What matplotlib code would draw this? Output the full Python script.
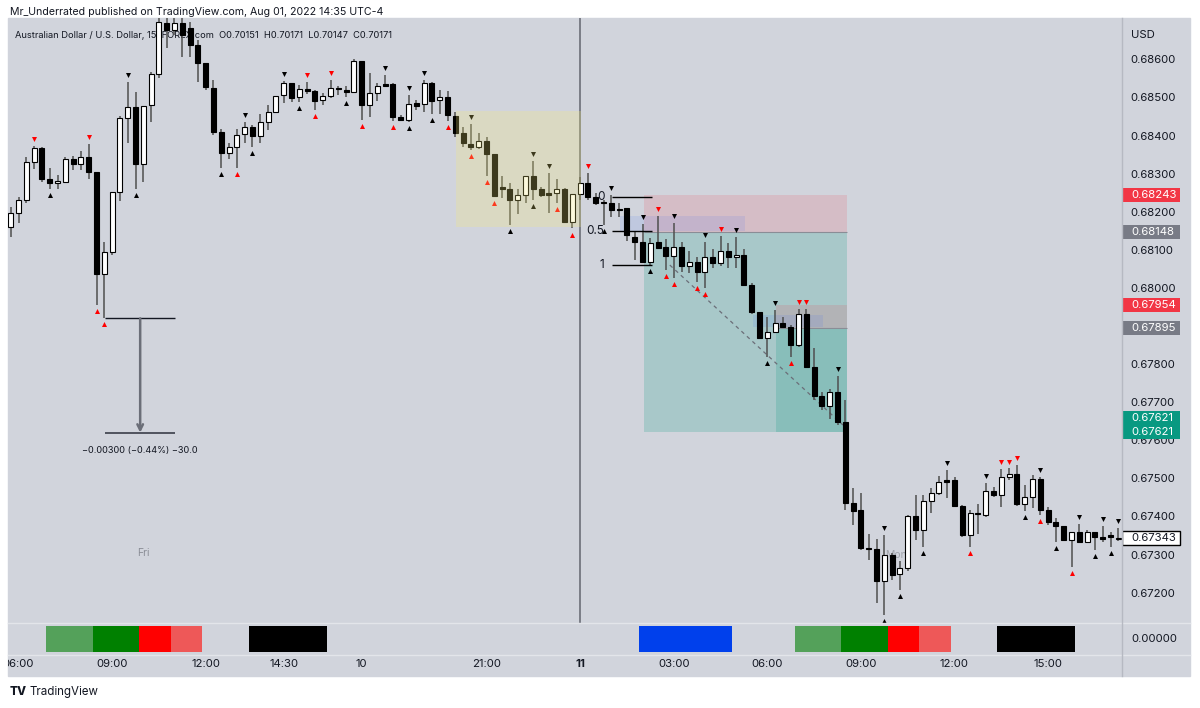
import matplotlib
matplotlib.use("Agg")
import matplotlib.pyplot as plt
from matplotlib.patches import Rectangle
from matplotlib.lines import Line2D

plt.rcParams["font.family"] = ["Inter", "DejaVu Sans"]

W, H = 1200, 708
BG = "#d1d4dc"
INK = "#131722"
WICK = "#4f4f4f"

# AUDUSD 15m candles (Fri 05:45 ... Mon 15:30)
opens = [0.68161, 0.68196, 0.68231, 0.68331, 0.68366, 0.68285, 0.68275, 0.68279, 0.68338, 0.68324,
         0.68343, 0.68305, 0.68036, 0.68093, 0.68253, 0.68445, 0.68476, 0.68325, 0.68480, 0.68561,
         0.68695, 0.68677, 0.68695, 0.68681, 0.68638, 0.68590, 0.68526, 0.68410, 0.68355, 0.68371,
         0.68404, 0.68423, 0.68399, 0.68436, 0.68462, 0.68506, 0.68537, 0.68500, 0.68521, 0.68517,
         0.68493, 0.68504, 0.68526, 0.68519, 0.68515, 0.68596, 0.68480, 0.68511, 0.68535, 0.68535,
         0.68449, 0.68441, 0.68486, 0.68483, 0.68539, 0.68493, 0.68500, 0.68451, 0.68406, 0.68378,
         0.68371, 0.68386, 0.68352, 0.68266, 0.68259, 0.68231, 0.68244, 0.68294, 0.68260, 0.68248,
         0.68248, 0.68259, 0.68174, 0.68246, 0.68276, 0.68239, 0.68226, 0.68224, 0.68207, 0.68209,
         0.68134, 0.68121, 0.68069, 0.68121, 0.68108, 0.68084, 0.68108, 0.68058, 0.68069, 0.68043,
         0.68082, 0.68065, 0.68098, 0.68080, 0.68086, 0.68008, 0.67938, 0.67868, 0.67883, 0.67907,
         0.67898, 0.67850, 0.67931, 0.67793, 0.67716, 0.67691, 0.67728, 0.67647, 0.67436, 0.67417,
         0.67318, 0.67314, 0.67231, 0.67299, 0.67248, 0.67264, 0.67401, 0.67364, 0.67441, 0.67462,
         0.67496, 0.67496, 0.67427, 0.67351, 0.67410, 0.67404, 0.67468, 0.67456, 0.67504, 0.67511,
         0.67434, 0.67452, 0.67498, 0.67418, 0.67386, 0.67375, 0.67338, 0.67358, 0.67334, 0.67358,
         0.67347, 0.67350, 0.67340]
highs = [0.68213, 0.68239, 0.68344, 0.68372, 0.68369, 0.68316, 0.68296, 0.68344, 0.68346, 0.68359,
         0.68379, 0.68305, 0.68120, 0.68253, 0.68451, 0.68541, 0.68513, 0.68478, 0.68568, 0.68708,
         0.68714, 0.68714, 0.68714, 0.68699, 0.68651, 0.68590, 0.68546, 0.68416, 0.68380, 0.68416,
         0.68436, 0.68428, 0.68456, 0.68480, 0.68504, 0.68544, 0.68537, 0.68533, 0.68541, 0.68519,
         0.68511, 0.68546, 0.68530, 0.68530, 0.68600, 0.68596, 0.68563, 0.68537, 0.68559, 0.68539,
         0.68454, 0.68506, 0.68493, 0.68546, 0.68541, 0.68519, 0.68518, 0.68462, 0.68422, 0.68430,
         0.68407, 0.68395, 0.68352, 0.68294, 0.68275, 0.68259, 0.68294, 0.68334, 0.68266, 0.68302,
         0.68285, 0.68261, 0.68246, 0.68292, 0.68301, 0.68248, 0.68231, 0.68244, 0.68222, 0.68209,
         0.68148, 0.68168, 0.68130, 0.68189, 0.68128, 0.68170, 0.68121, 0.68098, 0.68080, 0.68121,
         0.68101, 0.68136, 0.68119, 0.68134, 0.68101, 0.68012, 0.67938, 0.67924, 0.67942, 0.67924,
         0.67903, 0.67944, 0.67944, 0.67841, 0.67728, 0.67735, 0.67769, 0.67706, 0.67474, 0.67461,
         0.67354, 0.67340, 0.67351, 0.67303, 0.67283, 0.67404, 0.67456, 0.67456, 0.67474, 0.67506,
         0.67522, 0.67504, 0.67430, 0.67417, 0.67434, 0.67489, 0.67478, 0.67524, 0.67526, 0.67535,
         0.67483, 0.67509, 0.67504, 0.67424, 0.67395, 0.67375, 0.67360, 0.67380, 0.67364, 0.67360,
         0.67375, 0.67360, 0.67370]
lows = [0.68134, 0.68171, 0.68224, 0.68311, 0.68279, 0.68259, 0.68260, 0.68275, 0.68309, 0.68309,
        0.68285, 0.67955, 0.67920, 0.68086, 0.68228, 0.68380, 0.68260, 0.68279, 0.68435, 0.68551,
        0.68629, 0.68664, 0.68607, 0.68607, 0.68541, 0.68519, 0.68401, 0.68314, 0.68338, 0.68314,
        0.68380, 0.68369, 0.68381, 0.68414, 0.68462, 0.68486, 0.68489, 0.68489, 0.68509, 0.68467,
        0.68480, 0.68498, 0.68506, 0.68502, 0.68512, 0.68441, 0.68448, 0.68491, 0.68527, 0.68439,
        0.68438, 0.68436, 0.68467, 0.68462, 0.68456, 0.68456, 0.68438, 0.68395, 0.68371, 0.68362,
        0.68364, 0.68294, 0.68239, 0.68235, 0.68165, 0.68194, 0.68224, 0.68232, 0.68239, 0.68196,
        0.68222, 0.68170, 0.68156, 0.68232, 0.68231, 0.68218, 0.68165, 0.68187, 0.68187, 0.68124,
        0.68073, 0.68065, 0.68060, 0.68104, 0.68047, 0.68025, 0.68043, 0.68040, 0.68016, 0.67999,
        0.68051, 0.68057, 0.68051, 0.68051, 0.68008, 0.67931, 0.67866, 0.67819, 0.67881, 0.67894,
        0.67819, 0.67846, 0.67792, 0.67706, 0.67679, 0.67655, 0.67640, 0.67417, 0.67378, 0.67312,
        0.67286, 0.67172, 0.67141, 0.67233, 0.67207, 0.67258, 0.67338, 0.67321, 0.67410, 0.67456,
        0.67448, 0.67426, 0.67347, 0.67321, 0.67354, 0.67398, 0.67452, 0.67424, 0.67496, 0.67427,
        0.67415, 0.67421, 0.67404, 0.67378, 0.67334, 0.67336, 0.67268, 0.67332, 0.67331, 0.67312,
        0.67334, 0.67319, 0.67335]
closes = [0.68196, 0.68231, 0.68330, 0.68366, 0.68285, 0.68275, 0.68281, 0.68338, 0.68324, 0.68343,
          0.68305, 0.68036, 0.68093, 0.68253, 0.68445, 0.68476, 0.68325, 0.68478, 0.68561, 0.68698,
          0.68677, 0.68695, 0.68664, 0.68638, 0.68590, 0.68528, 0.68410, 0.68355, 0.68371, 0.68401,
          0.68423, 0.68399, 0.68436, 0.68462, 0.68504, 0.68537, 0.68498, 0.68521, 0.68518, 0.68491,
          0.68504, 0.68526, 0.68521, 0.68515, 0.68596, 0.68480, 0.68511, 0.68530, 0.68530, 0.68449,
          0.68441, 0.68483, 0.68478, 0.68539, 0.68491, 0.68500, 0.68454, 0.68407, 0.68380, 0.68371,
          0.68386, 0.68352, 0.68242, 0.68259, 0.68231, 0.68244, 0.68294, 0.68259, 0.68244, 0.68246,
          0.68259, 0.68174, 0.68246, 0.68276, 0.68239, 0.68222, 0.68222, 0.68204, 0.68204, 0.68139,
          0.68121, 0.68069, 0.68119, 0.68106, 0.68084, 0.68108, 0.68057, 0.68069, 0.68041, 0.68082,
          0.68065, 0.68098, 0.68080, 0.68086, 0.68008, 0.67938, 0.67868, 0.67883, 0.67907, 0.67898,
          0.67850, 0.67931, 0.67793, 0.67716, 0.67691, 0.67728, 0.67647, 0.67436, 0.67415, 0.67318,
          0.67314, 0.67231, 0.67299, 0.67246, 0.67264, 0.67401, 0.67364, 0.67441, 0.67462, 0.67491,
          0.67491, 0.67427, 0.67351, 0.67410, 0.67406, 0.67468, 0.67456, 0.67504, 0.67511, 0.67434,
          0.67452, 0.67498, 0.67417, 0.67386, 0.67375, 0.67338, 0.67358, 0.67334, 0.67358, 0.67347,
          0.67340, 0.67346, 0.67343]

# pivot markers (bar indices)
tops_black = [15, 30, 35, 48, 51, 53, 59, 67, 69, 77, 81, 85, 89, 93, 98, 106, 112, 120, 125, 132, 137, 140, 142]
tops_red = [3, 10, 38, 41, 74, 83, 91, 101, 102, 127, 128, 129]
bots_black = [5, 16, 27, 31, 37, 43, 51, 54, 64, 67, 76, 82, 97, 112, 114, 117, 130, 134, 139, 141]
bots_red = [11, 12, 29, 39, 45, 49, 56, 59, 61, 62, 70, 72, 84, 85, 88, 89, 100, 123, 132, 136]

# session blocks in the lower pane: first bar, last bar, colour
sessions = [(5, 10, "#54a15a"), (11, 16, "#008000"), (17, 20, "#ff0000"), (21, 24, "#ee5858"),
            (31, 40, "#000000"), (81, 92, "#0040ec"), (101, 106, "#54a15a"), (107, 112, "#008000"),
            (113, 116, "#ff0000"), (117, 120, "#ee5858"), (127, 136, "#000000")]

time_ticks = [1, 13, 25, 35, 45, 61, 73, 85, 97, 109, 121, 133]
time_labels = ["06:00", "09:00", "12:00", "14:30", "10", "21:00", "11",
               "03:00", "06:00", "09:00", "12:00", "15:00"]
price_ticks = [0.672, 0.673, 0.674, 0.675, 0.676, 0.677, 0.678,
               0.680, 0.681, 0.682, 0.683, 0.684, 0.685, 0.686]

# drawings
zone = (57.1, 73.1, 0.68159, 0.68464)            # x0, x1, low, high
short1 = (81.2, 107.2, 0.68243, 0.68148, 0.67621)  # x0, x1, stop, entry, target
short2 = (98.1, 107.2, 0.67954, 0.67895, 0.67621)
blue_boxes = [(78.1, 94.1, 0.68149, 0.68189), (95.2, 104.1, 0.67897, 0.67929)]
fib_levels = [("0", 0.68239), ("0.5", 0.68150), ("1", 0.68060)]
measure = (12.1, 21.1, 0.67920, 0.67620)
axis_marks = [(0.68243, "#f23645"), (0.68148, "#787b86"), (0.67954, "#f23645"),
              (0.67895, "#787b86"), (0.67658, "#089981"), (0.67621, "#089981")]
last_price = 0.67343

fig = plt.figure(figsize=(W / 100, H / 100), dpi=100)
fig.patch.set_facecolor("white")


def px_axes(x0, y0, x1, y1):
    return fig.add_axes([x0 / W, 1 - y1 / H, (x1 - x0) / W, (y1 - y0) / H])


# grey card behind the chart
fig.add_artist(Rectangle((8 / W, 1 - 676 / H), 1182 / W, 658 / H,
                         transform=fig.transFigure, color=BG, zorder=-5))

XLIM = ((8 - 10.7) / 7.8, (1122 - 10.7) / 7.8)
YLIM = (0.671203, 0.687085)

ax = px_axes(8, 18, 1122, 623)
ax.set_facecolor("none")
ax.set_xlim(*XLIM)
ax.set_ylim(*YLIM)
for s in ax.spines.values():
    s.set_visible(False)
ax.set_xticks([])
ax.yaxis.tick_right()
ax.set_yticks(price_ticks)
ax.set_yticklabels([f"{v:.5f}" for v in price_ticks])
ax.tick_params(axis="y", length=0, pad=6, labelsize=8.2, labelcolor=INK)

# candles
for i in range(len(opens)):
    o, h, l, c = opens[i], highs[i], lows[i], closes[i]
    ax.vlines(i, l, h, color=WICK, lw=1.1, zorder=3)
    lo, hi = min(o, c), max(o, c)
    if hi - lo < 0.00004:
        mid = (hi + lo) / 2
        lo, hi = mid - 0.00002, mid + 0.00002
    ax.add_patch(Rectangle((i - 0.33, lo), 0.66, hi - lo,
                           facecolor="white" if c >= o else "black",
                           edgecolor="black", lw=0.8, zorder=4))

ax.scatter(tops_black, [highs[i] + 0.00018 for i in tops_black], marker="v", s=13, color="black", lw=0, zorder=5)
ax.scatter(tops_red, [highs[i] + 0.00018 for i in tops_red], marker="v", s=13, color="#ff0000", lw=0, zorder=5)
ax.scatter(bots_black, [lows[i] - 0.00016 for i in bots_black], marker="^", s=13, color="black", lw=0, zorder=5)
ax.scatter(bots_red, [lows[i] - 0.00016 for i in bots_red], marker="^", s=13, color="#ff0000", lw=0, zorder=5)

# Monday open line
ax.axvline(73, color="#6b6e78", lw=1.2, zorder=2)

# supply/demand zone drawn on top
x0, x1, lo, hi = zone
ax.add_patch(Rectangle((x0, lo), x1 - x0, hi - lo, fc="#f5eb78", alpha=0.25, lw=0, zorder=6))

# short positions
for x0, x1, stop, entry, target in (short1, short2):
    ax.add_patch(Rectangle((x0, entry), x1 - x0, stop - entry, fc="#f23645", alpha=0.14, lw=0, zorder=1))
    ax.add_patch(Rectangle((x0, target), x1 - x0, entry - target, fc="#089981", alpha=0.2, lw=0, zorder=1))
    ax.hlines(entry, x0, x1, color="#8a8d96", lw=0.8, zorder=1.2)
for x0, x1, lo, hi in blue_boxes:
    ax.add_patch(Rectangle((x0, lo), x1 - x0, hi - lo, fc="#2962ff", alpha=0.1, lw=0, zorder=1.1))

# fib retracement
for lab, lvl in fib_levels:
    ax.hlines(lvl, 77.1, 82.2, color="black", lw=1, zorder=3)
    ax.text(76.1, lvl, lab, ha="right", va="center", fontsize=8.5, color=INK, zorder=3)

# trend line
ax.plot([84.5, 106.7], [0.68060, 0.67640], color="#6b6e78", lw=0.9, ls=(0, (3, 3)), zorder=2)

# price range measurement
mx0, mx1, mtop, mbot = measure
mxc = (mx0 + mx1) / 2
ax.hlines(mtop, mx0, mx1, color=INK, lw=1, zorder=3)
ax.hlines(mbot, mx0, mx1, color="#50535e", lw=1.4, zorder=3)
ax.annotate("", xy=(mxc, mbot), xytext=(mxc, mtop),
            arrowprops=dict(arrowstyle="->", color="#6b6e78", lw=1.8, shrinkA=0, shrinkB=0))
ax.text(mxc, mbot - 0.00048, "\u22120.00300 (\u22120.44%) \u221230.0", ha="center", va="center",
        fontsize=6.6, color=INK)

# session names
ax.text(17, 0.67304, "Fri", ha="center", va="center", fontsize=7.5, color="#8a8d96")
ax.text(113.5, 0.67298, "Mon", ha="center", va="center", fontsize=7.5, color="#a0a3ab", zorder=1.5)

# symbol line, behind candles
ax.text(15 / W, 1 - 36 / H,
        "Australian Dollar / U.S. Dollar, 15, FOREX.com  O0.70151  H0.70171  L0.70147  C0.70171",
        transform=fig.transFigure, fontsize=6.7, color=INK, va="center", ha="left", zorder=1)

# lower pane with session colours
ax_i = px_axes(8, 623, 1122, 655)
ax_i.set_facecolor("none")
ax_i.set_xlim(*XLIM)
ax_i.set_ylim(0, 1)
ax_i.axis("off")
for a, b, col in sessions:
    ax_i.bar(range(a, b + 1), 0.81, bottom=0.095, width=1.0, color=col, lw=0)

# time axis
ax_t = px_axes(8, 655, 1122, 676)
ax_t.set_facecolor("none")
ax_t.set_xlim(*XLIM)
ax_t.set_ylim(0, 1)
ax_t.axis("off")
for t, lab in zip(time_ticks, time_labels):
    ax_t.text(t, 0.55, lab, ha="center", va="center", fontsize=8.2, color=INK,
              fontweight="bold" if lab == "11" else "normal", clip_on=True)

# right price scale marks
ax_r = px_axes(1122, 18, 1190, 623)
ax_r.set_facecolor("none")
ax_r.set_xlim(0, 68)
ax_r.set_ylim(*YLIM)
ax_r.axis("off")
box_h = 0.000368
for p, col in axis_marks:
    ax_r.add_patch(Rectangle((0.3, p - box_h / 2), 57.5, box_h, fc=col, ec=col, lw=0, zorder=3))
    label = 0.67621 if col == "#089981" else p
    ax_r.text(9, p, f"{label:.5f}", fontsize=8.2, color="white", va="center", ha="left", zorder=4)
ax_r.add_patch(Rectangle((0.3, last_price - box_h / 2), 57.5, box_h, fc="white", ec="black", lw=1, zorder=3))
ax_r.text(9, last_price, f"{last_price:.5f}", fontsize=8.2, color=INK, va="center", ha="left", zorder=4)

fig.text(1131 / W, 1 - 35 / H, "USD", fontsize=8.2, color=INK, va="center")
fig.text(1131 / W, 1 - 639 / H, "0.00000", fontsize=8.2, color=INK, va="center")

# pane separators
for y in (623, 655):
    fig.add_artist(Line2D([8 / W, 1190 / W], [1 - y / H] * 2, color="#e3e5ea", lw=1))
fig.add_artist(Line2D([1122 / W] * 2, [1 - 676 / H, 1 - 18 / H], color="#b6b9c2", lw=1))

# header and footer
fig.text(10 / W, 1 - 12 / H, "Mr_Underrated published on TradingView.com, Aug 01, 2022 14:35 UTC-4",
         fontsize=7.6, color=INK, va="center")
fig.text(10 / W, 1 - 692 / H, "TV", fontsize=8.5, fontweight="heavy", color=INK, va="center")
fig.text(30 / W, 1 - 692 / H, "TradingView", fontsize=8.3, color=INK, va="center")

fig.savefig("out.png", dpi=100, facecolor="white")
